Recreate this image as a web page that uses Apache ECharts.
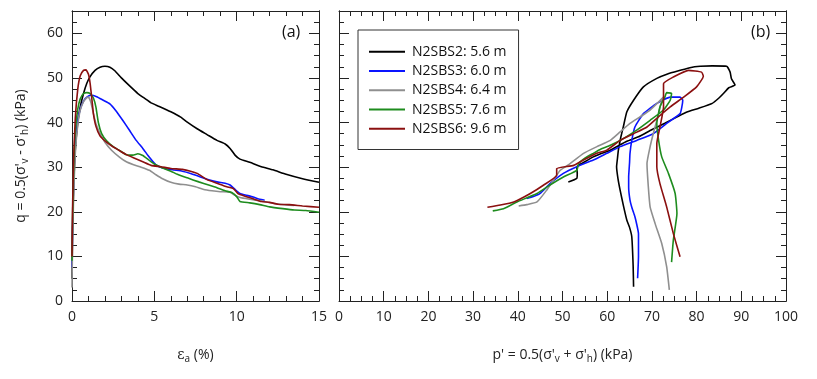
<!DOCTYPE html>
<html>
<head>
<meta charset="utf-8">
<script src="https://cdn.jsdelivr.net/npm/echarts@6/dist/echarts.min.js"></script>
<style>
  html, body { margin: 0; padding: 0; background: #fff; }
  #chart { width: 817px; height: 379px; }
</style>
</head>
<body>
<div id="chart"></div>
<script>
// legend names and colours
var names = ['N2SBS2: 5.6 m', 'N2SBS3: 6.0 m', 'N2SBS4: 6.4 m', 'N2SBS5: 7.6 m', 'N2SBS6: 9.6 m'];
var colors = ['#000000', '#0a14ff', '#8f8f8f', '#1e8c1e', '#8b1010'];

// (a) axial strain (%) vs q (kPa)
var strainS2 = [[0,5],[0.03,14],[0.1,26],[0.2,34],[0.35,40],[0.5,43.5],[0.7,46.5],[0.9,48.8],[1.1,50.3],[1.4,51.7],[1.7,52.4],[2.0,52.6],[2.3,52.4],[2.6,51.6],[3.0,50],[3.5,48.2],[4.0,46.5],[4.5,45.2],[4.8,44.4],[5.3,43.6],[6.0,42.4],[6.6,41.2],[7.0,40.1],[7.6,38.6],[8.2,37.3],[8.8,36],[9.3,35.2],[9.6,34.2],[9.9,32.7],[10.2,31.8],[10.8,31.1],[11.5,30.1],[12.2,29.4],[13.0,28.4],[14.0,27.4],[15,26.6]];
var strainS3 = [[0,7.5],[0.03,16],[0.1,27],[0.2,35],[0.35,40.5],[0.5,43],[0.7,44.8],[0.9,45.7],[1.15,46.1],[1.5,45.8],[1.9,45],[2.3,44.2],[2.7,42.5],[3.1,40.4],[3.5,38.2],[3.9,36],[4.3,34.2],[4.7,32.2],[5.1,30.5],[5.5,29.8],[6.1,29.4],[6.7,29.1],[7.2,28.6],[7.8,27.8],[8.3,27.2],[8.8,26.7],[9.3,26.4],[9.6,26],[9.9,25],[10.2,24.1],[10.6,23.7],[11.0,23.3],[11.4,22.8],[11.7,22.6]];
var strainS4 = [[0,3],[0.03,12],[0.1,24],[0.2,33],[0.35,39.5],[0.5,42.8],[0.7,44.7],[0.9,45.6],[1.0,45.7],[1.15,44.5],[1.3,42],[1.45,39.8],[1.7,37.5],[2.0,35.6],[2.4,33.8],[2.9,32.2],[3.3,31.2],[3.7,30.6],[4.2,30],[4.7,29.3],[5.1,28.3],[5.5,27.4],[6.0,26.6],[6.5,26.2],[7.0,26.0],[7.5,25.6],[8.0,25],[8.5,24.7],[9.0,24.5],[9.6,24.4],[9.9,23.7],[10.2,23.2],[10.8,22.8],[11.5,22.4],[12.2,21.9],[13.0,21.5],[13.5,21.4]];
var strainS5 = [[0,9],[0.03,18],[0.1,30],[0.2,38],[0.35,43],[0.5,45.3],[0.7,46.5],[0.9,46.7],[1.1,46.5],[1.3,45.5],[1.45,43.5],[1.6,40],[1.8,37.5],[2.1,35.9],[2.5,34.6],[2.9,33.7],[3.3,32.8],[3.7,32.7],[4.0,33],[4.3,32.6],[4.6,31.8],[5.0,30.7],[5.5,29.8],[6.0,29.1],[6.4,28.4],[7.0,27.6],[7.7,26.7],[8.3,26],[8.8,25.4],[9.3,24.7],[9.7,24.3],[10.0,23.4],[10.2,22.3],[10.8,22],[11.4,21.6],[12.0,21.1],[12.8,20.7],[13.5,20.4],[14.2,20.3],[15,19.9]];
var strainS6 = [[0,10],[0.03,20],[0.1,32],[0.2,41],[0.35,47.5],[0.5,50.5],[0.7,51.7],[0.85,51.8],[1.0,50.8],[1.1,48.8],[1.2,45.5],[1.3,42],[1.45,39.2],[1.7,37],[2.0,35.9],[2.4,34.8],[2.8,33.9],[3.3,32.8],[3.8,32],[4.3,31.2],[4.8,30.4],[5.4,30.1],[6.0,29.7],[6.7,29.5],[7.2,29.1],[7.6,28.6],[8.2,27.2],[8.8,26.4],[9.4,25.6],[9.8,25.2],[10.1,24],[10.5,23.5],[11.0,22.9],[11.5,22.3],[12.0,22.1],[12.5,21.7],[13.2,21.6],[14.0,21.3],[15,21]];

// (b) p' (kPa) vs q (kPa) stress paths
var pathS2 = [[65.9,3.2],[65.8,8],[65.5,14.4],[65,16.5],[64.4,18.1],[63.6,21.5],[62.9,24.8],[62.4,27.5],[62.1,30.1],[62.3,32],[62.5,33.8],[63,36.5],[63.6,39],[64.4,42.4],[65.9,45],[68.1,48],[71.1,49.9],[73.5,50.9],[76.3,51.7],[78.5,52.3],[80.8,52.6],[83.5,52.7],[86.7,52.6],[87.5,51.3],[87.8,49.8],[88.6,48.4],[87.2,47.8],[86,46.5],[85,45.5],[83.5,44.3],[80.5,43.2],[78,42.4],[75.9,41.4],[73,39.9],[71,38.9],[69.6,38.2],[67,36.8],[64.4,35.8],[62.5,34.8],[60.7,33.8],[58.8,33.1],[56.9,32.3],[55,31.2],[53.2,30.1],[53.3,28.5],[53.2,27.5],[51.3,26.7]];
var pathS3 = [[66.8,5.1],[67,10],[67,15.1],[66.6,17.2],[66.2,18.9],[65.5,21],[65.1,22.6],[64.8,25.5],[64.8,27.8],[65,31],[65.1,33.1],[65.5,36],[66.2,39],[68.1,42],[71.1,44.3],[74.1,45.7],[76.3,45.7],[76.9,45],[76.7,43.5],[76.3,42],[73.3,39.8],[70.3,37.5],[66.6,36],[62.9,34.6],[59.9,33.1],[56.9,31.6],[53.2,30.1],[50.2,28.6],[47.2,26.3],[45,24.1],[43.5,23.4],[42,23]];
var pathS4 = [[73.9,2.5],[73.3,7.7],[72.2,12.9],[70.7,17.4],[69.6,21.1],[69.2,25.6],[68.9,30.8],[69.6,34.6],[70.3,37.5],[71.5,42],[72.2,45],[72.6,45.7],[71.5,44.6],[69.6,42.8],[67.4,41.3],[65.1,39.8],[62.9,37.9],[60.7,36],[57.7,34.6],[54.7,33.1],[51.7,30.8],[49.5,29.3],[48,27.1],[46.5,24.9],[44.3,22.2],[42,21.6],[40.2,21.3]];
var pathS5 = [[74.4,8.7],[74.8,13.7],[75.6,19.6],[75.2,24.1],[73.7,28.6],[72.2,32.3],[71.5,36],[71.1,39.8],[71.8,43.5],[72.9,45.7],[73.3,46.7],[74.4,46.5],[74.1,45],[72.6,42.8],[69.6,40.5],[66.6,38.3],[63.6,36.4],[60.7,34.9],[58.5,34],[56.9,33.1],[55,32],[53.6,30.8],[53.2,29.3],[50.2,27.8],[47.2,26],[44.3,24.1],[39.8,22.2],[36.8,20.7],[34.4,20.2]];
var pathS6 = [[76.3,9.9],[74.8,15.1],[73.3,21.1],[71.8,26.3],[71.1,30.1],[71.1,35.3],[71.8,39],[72.6,43.5],[72.6,48.7],[74.8,50.2],[78.2,51.7],[81.1,51.3],[81.5,50.4],[80,48],[77.1,45.7],[74.1,43.5],[71.5,41.3],[68.9,39],[65.9,37.5],[62.9,36],[59.9,33.8],[57.7,33.1],[54.7,31.6],[52.5,30.4],[48.7,29.7],[48.7,28.2],[45.8,26],[42.8,24.1],[39.1,22.2],[36.1,21.5],[33.2,21]];

var strainData = [strainS2, strainS3, strainS4, strainS5, strainS6];
var pathData = [pathS2, pathS3, pathS4, pathS5, pathS6];

var font = 'Open Sans';
var lineStyle = { color: '#222', width: 1 };

function xAx(grid, pos, max, interval, split, labels) {
  return {
    type: 'value', gridIndex: grid, position: pos, min: 0, max: max, interval: interval,
    axisLine: { show: true, onZero: false, lineStyle: lineStyle },
    axisTick: { show: true, inside: true, length: 10, lineStyle: lineStyle },
    minorTick: { show: true, splitNumber: split, length: 5, lineStyle: lineStyle },
    splitLine: { show: false },
    axisLabel: { show: labels, fontFamily: font, fontSize: 14, color: '#222', margin: 9 }
  };
}

function yAx(grid, pos, interval, len, labels) {
  return {
    type: 'value', gridIndex: grid, position: pos, min: 0, max: 65, interval: interval,
    axisLine: { show: true, onZero: false, lineStyle: lineStyle },
    axisTick: { show: true, inside: true, length: len, lineStyle: lineStyle },
    splitLine: { show: false },
    axisLabel: { show: labels, showMaxLabel: false, fontFamily: font, fontSize: 14, color: '#222', margin: 9 }
  };
}

var xAxes = [
  xAx(0, 'bottom', 15, 5, 5, true),
  xAx(0, 'top', 15, 5, 5, false),
  xAx(1, 'bottom', 100, 10, 4, true),
  xAx(1, 'top', 100, 10, 4, false)
];
xAxes[0].name = '{e|ε}{s|a}{n| (%)}';
xAxes[2].name = "{n|p' = 0.5(σ'}{s|v}{n| + σ'}{s|h}{n|) (kPa)}";
var nameRich = {
  n: { fontFamily: font, fontSize: 14, color: '#222' },
  e: { fontFamily: 'DejaVu Serif', fontSize: 14, color: '#222' },
  s: { fontFamily: font, fontSize: 10, color: '#222', padding: [8, 0, 0, 0] }
};
[0, 2].forEach(function (i) {
  xAxes[i].nameLocation = 'middle';
  xAxes[i].nameGap = 45;
  xAxes[i].nameTextStyle = { rich: nameRich };
});

var yAxes = [
  yAx(0, 'left', 10, 10, true),
  yAx(0, 'left', 2.5, 5, false),
  yAx(0, 'right', 10, 10, false),
  yAx(0, 'right', 2.5, 5, false),
  yAx(1, 'left', 10, 10, false),
  yAx(1, 'left', 2.5, 5, false),
  yAx(1, 'right', 10, 10, false),
  yAx(1, 'right', 2.5, 5, false)
];
yAxes[0].name = "{n|q = 0.5(σ'}{s|v}{n| - σ'}{s|h}{n|) (kPa)}";
yAxes[0].nameLocation = 'middle';
yAxes[0].nameGap = 42;
yAxes[0].nameTextStyle = { rich: nameRich };

var series = [];
names.forEach(function (n, i) {
  series.push({
    name: n, type: 'line', xAxisIndex: 0, yAxisIndex: 0, data: strainData[i],
    symbol: 'none', smooth: 0.15, lineStyle: { color: colors[i], width: 1.6 }, itemStyle: { color: colors[i] }
  });
  series.push({
    name: n, type: 'line', xAxisIndex: 2, yAxisIndex: 4, data: pathData[i],
    symbol: 'none', smooth: 0.15, lineStyle: { color: colors[i], width: 1.6 }, itemStyle: { color: colors[i] }
  });
});

var chart = echarts.init(document.getElementById('chart'));
chart.setOption({
  animation: false,
  backgroundColor: '#fff',
  grid: [
    { left: 72, top: 11, width: 247, height: 290 },
    { left: 339, top: 11, width: 447, height: 290 }
  ],
  xAxis: xAxes,
  yAxis: yAxes,
  legend: {
    data: names,
    orient: 'vertical',
    left: 358, top: 30,
    padding: [12, 12, 11, 11],
    icon: 'rect',
    itemWidth: 36, itemHeight: 2, itemGap: 0,
    borderColor: '#333', borderWidth: 1,
    textStyle: { fontFamily: font, fontSize: 14, color: '#111', lineHeight: 19.3, padding: [0, 0, 0, 2] }
  },
  graphic: [
    { type: 'text', left: 282, top: 24, style: { text: '(a)', font: '16px "Open Sans"', fill: '#111' } },
    { type: 'text', left: 751, top: 24, style: { text: '(b)', font: '16px "Open Sans"', fill: '#111' } }
  ],
  series: series
});
</script>
</body>
</html>
